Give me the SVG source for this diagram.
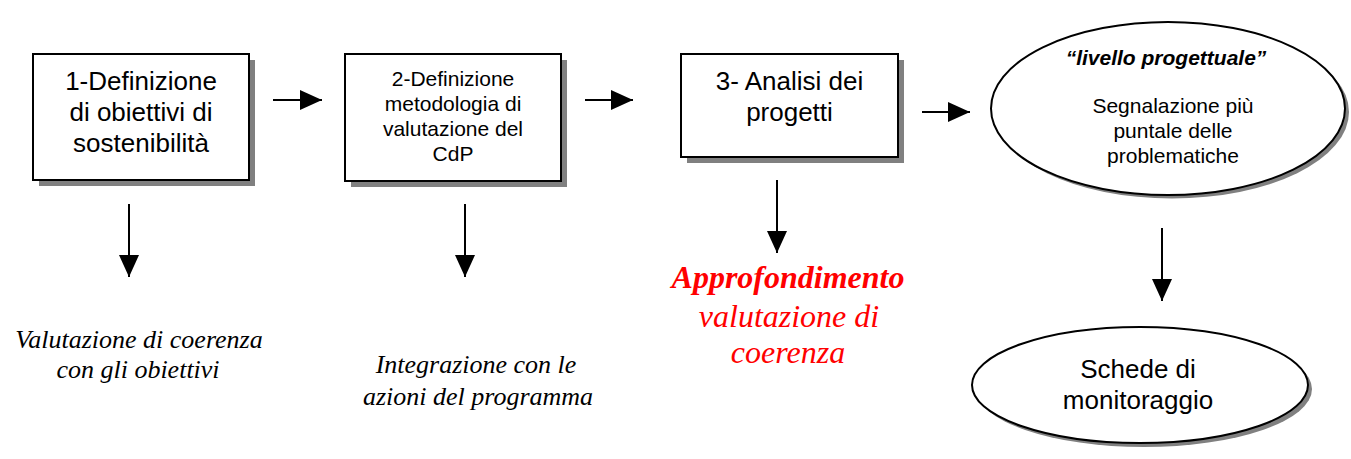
<svg xmlns="http://www.w3.org/2000/svg" width="1351" height="459" viewBox="0 0 1351 459">
<style>
.box{fill:#fff;stroke:#000;stroke-width:2}
.shadow{fill:#808080;stroke:none}
.sans{font-family:"Liberation Sans",Arial,sans-serif;fill:#000;text-anchor:middle}
.big{font-size:26px}
.small{font-size:21px}
.serif{font-family:"Liberation Serif","Times New Roman",serif;font-style:italic;text-anchor:middle}
.blk{fill:#000;font-size:26px}
.red{fill:#ff0000;font-size:32px}
.conn{stroke:#000;stroke-width:2;fill:none;marker-end:url(#ah)}
</style>
<defs>
<marker id="ah" markerUnits="userSpaceOnUse" markerWidth="22" markerHeight="20" refX="22" refY="10" orient="auto">
<path d="M0,0 L22,10 L0,20 Z" fill="#000"/>
</marker>
</defs>
<rect width="1351" height="459" fill="#fff"/>

<g id="n1">
<rect class="shadow" x="39" y="60" width="216" height="126"/>
<rect class="box" x="33" y="54" width="216" height="126"/>
<text class="sans big" x="141" y="90">1-Definizione</text>
<text class="sans big" x="141" y="121">di obiettivi di</text>
<text class="sans big" x="141" y="152">sostenibilità</text>
</g>

<g id="n2">
<rect class="shadow" x="351" y="60" width="216" height="127"/>
<rect class="box" x="345" y="54" width="216" height="127"/>
<text class="sans small" x="453" y="86">2-Definizione</text>
<text class="sans small" x="453" y="111">metodologia di</text>
<text class="sans small" x="453" y="136">valutazione del</text>
<text class="sans small" x="453" y="161">CdP</text>
</g>

<g id="n3">
<rect class="shadow" x="687" y="60" width="217" height="103"/>
<rect class="box" x="681" y="54" width="217" height="103"/>
<text class="sans big" x="789.5" y="90">3- Analisi dei</text>
<text class="sans big" x="789.5" y="121">progetti</text>
</g>

<g id="n4">
<ellipse class="shadow" cx="1172" cy="112" rx="177" ry="86.5"/>
<ellipse class="box" cx="1168" cy="108.5" rx="177" ry="86.5"/>
<text class="sans small" x="1166" y="65" font-weight="bold" font-style="italic">“livello progettuale”</text>
<text class="sans small" x="1173" y="113">Segnalazione più</text>
<text class="sans small" x="1173" y="138">puntale delle</text>
<text class="sans small" x="1173" y="163">problematiche</text>
</g>

<g id="n5">
<ellipse class="shadow" cx="1144" cy="389" rx="168" ry="58"/>
<ellipse class="box" cx="1140" cy="385" rx="168" ry="58"/>
<text class="sans big" x="1138" y="378">Schede di</text>
<text class="sans big" x="1138" y="409">monitoraggio</text>
</g>

<g id="t1">
<text class="serif blk" x="139" y="348">Valutazione di coerenza</text>
<text class="serif blk" x="138" y="378">con gli obiettivi</text>
</g>

<g id="t2">
<text class="serif blk" x="476" y="373">Integrazione con le</text>
<text class="serif blk" x="478" y="405">azioni del programma</text>
</g>

<g id="t3">
<text class="serif red" x="788" y="288" font-weight="bold">Approfondimento</text>
<text class="serif red" x="789" y="327">valutazione di</text>
<text class="serif red" x="788" y="363">coerenza</text>
</g>

<g id="connectors">
<line class="conn" x1="273" y1="100" x2="322" y2="100"/>
<line class="conn" x1="585" y1="100" x2="633" y2="100"/>
<line class="conn" x1="922" y1="112" x2="970" y2="112"/>
<line class="conn" x1="129" y1="204" x2="129" y2="277"/>
<line class="conn" x1="465" y1="204" x2="465" y2="277"/>
<line class="conn" x1="777" y1="180" x2="777" y2="253"/>
<line class="conn" x1="1162" y1="228" x2="1162" y2="301"/>
</g>
</svg>
